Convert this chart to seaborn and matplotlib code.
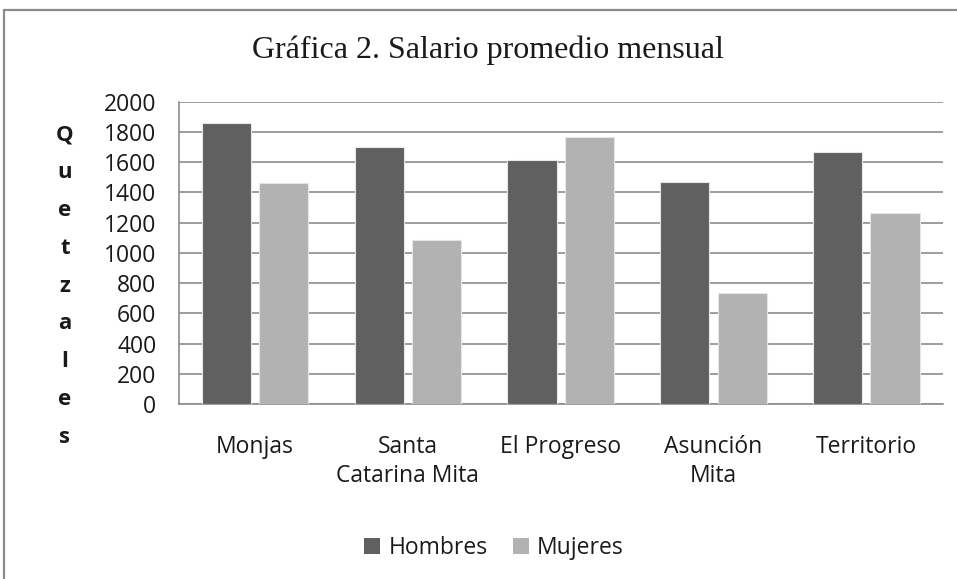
import matplotlib
matplotlib.use("Agg")
import matplotlib.pyplot as plt
import seaborn as sns
import pandas as pd
from matplotlib.patches import Rectangle, Patch

municipios = ["Monjas", "Santa\nCatarina Mita", "El Progreso", "Asunción\nMita", "Territorio"]
hombres = [1861, 1698, 1614, 1471, 1665]
mujeres = [1460, 1087, 1766, 732, 1266]
series = ["Hombres", "Mujeres"]
yticks = [0, 200, 400, 600, 800, 1000, 1200, 1400, 1600, 1800, 2000]

df = pd.DataFrame({
    "Municipio": municipios * 2,
    "Salario": hombres + mujeres,
    "Sexo": [series[0]] * len(municipios) + [series[1]] * len(municipios),
})

sns.set_theme(style="white")
plt.rcParams["font.family"] = ["Open Sans", "DejaVu Sans"]

fig = plt.figure(figsize=(9.57, 5.79), dpi=100)
ax = fig.add_axes([178.7 / 957, 1 - 404 / 579, (942.7 - 178.7) / 957, (404 - 101.7) / 579])

colors = ["#606060", "#b2b2b2"]
sns.barplot(data=df, x="Municipio", y="Salario", hue="Sexo", palette=colors,
            width=0.75, gap=0.14, edgecolor="#e6e6e6", linewidth=0.8,
            ax=ax, legend=False, zorder=3)

ax.set_ylim(0, 2000)
ax.set_yticks(yticks)
ax.yaxis.grid(True, color="#8c8c8c", linewidth=1.2, zorder=0)
ax.set_axisbelow(True)
for s in ["top", "right"]:
    ax.spines[s].set_visible(False)
for s in ["left", "bottom"]:
    ax.spines[s].set_color("#8c8c8c")
    ax.spines[s].set_linewidth(1.2)
ax.tick_params(axis="y", length=0, pad=16, labelsize=16.5, labelcolor="#1a1a1a")
ax.tick_params(axis="x", length=0, pad=22, labelsize=16.5, labelcolor="#1a1a1a")
for lab in ax.get_xticklabels():
    lab.set_linespacing(1.3)
ax.set_xlabel("")
ax.set_ylabel("")

fig.text(65 / 957, 1 - 286 / 579, "\n".join(list("Quetzales")), ha="center", va="center",
         fontsize=16, fontweight="bold", linespacing=2.05, color="#1a1a1a")

fig.text(488 / 957, 1 - 50 / 579, "Gráfica 2. Salario promedio mensual", ha="center", va="center",
         fontsize=23, family=["Liberation Serif", "DejaVu Serif"], color="#1a1a1a")

handles = [Patch(facecolor=c, edgecolor="none") for c in colors]
fig.legend(handles, series, loc="center", bbox_to_anchor=(494 / 957, 1 - 548 / 579),
           ncol=2, frameon=False, fontsize=16.5, handlelength=0.7, handleheight=0.7,
           handletextpad=0.35, columnspacing=1.1, labelcolor="#1a1a1a")

fig.patches.append(Rectangle((4 / 957, -0.05), 1.1, 1 - 10 / 579 + 0.05, transform=fig.transFigure,
                             fill=False, edgecolor="#8a8a8a", linewidth=1.6))

fig.savefig("out.png", dpi=100)
